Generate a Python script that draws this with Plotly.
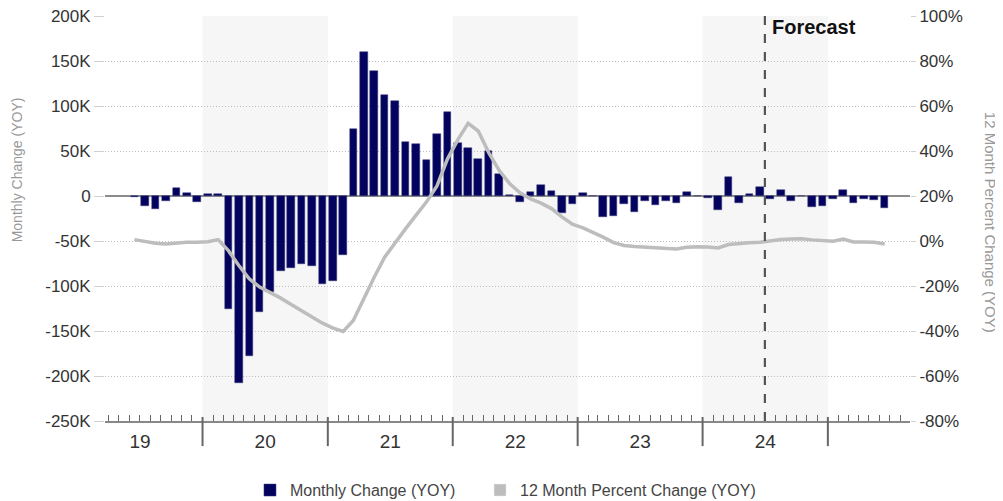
import pandas as pd
import plotly.graph_objects as go

# Months (Jun 2019 .. Jun 2025)
months = pd.date_range("2019-06-01", "2025-06-01", freq="MS").strftime("%Y-%m-%d").tolist()

# Monthly change (YOY), thousands
monthly_change_k = [
    -1, -11, -14, -5, 8.6, 3.5, -7,                                      # 2019 Jun-Dec
    2.4, 2, -125, -208, -178, -129, -107, -83, -80, -76, -78, -98,        # 2020
    -94, -66, 74.5, 160, 139, 112.5, 106, 60, 58, 40.5, 69, 93.7,         # 2021
    59, 53.4, 41.5, 49.7, 25, 1.5, -6.5, 4.9, 12.2, 5.2, -19, -8.5,       # 2022
    3.5, -0.5, -23, -22, -9, -18, -5, -10.5, -6, -8, 5, 0.5,              # 2023
    -2, -16, 21.6, -8, 2.2, 10, -3.7, 7, -5, 0.3, -11.7, -11,             # 2024
    -3, 6.3, -8, -3, -4, -13,                                             # 2025 Jan-Jun
]
monthly_change = [v * 1000 for v in monthly_change_k]

# 12 month percent change (YOY), %
pct_change = [
    0.6, -0.3, -1.0, -1.3, -0.8, -0.6, -0.6,
    -0.3, 0.6, -4.3, -10.9, -16.8, -20.5, -22.8, -25.4, -28.2, -30.9, -33.8, -36.5,
    -38.7, -40.2, -35.3, -25.4, -16.1, -7.2, -0.6, 5.5, 11.5, 17.4, 24.5, 36.4,
    45.2, 52.3, 48.9, 39.3, 31.4, 25.5, 21.4, 18.7, 16.8, 14.4, 10.7, 7.5,
    5.8, 3.9, 1.7, -0.7, -2.0, -2.4, -2.6, -2.8, -3.2, -3.5, -2.8, -2.5,
    -2.7, -3.1, -1.6, -1.1, -0.8, -0.6, 0.0, 0.7, 0.9, 1.0, 0.5, 0.1,
    -0.1, 0.9, -0.4, -0.4, -0.6, -1.3,
]

left_tickvals = [200000, 150000, 100000, 50000, 0, -50000, -100000, -150000, -200000, -250000]
left_ticktext = ["200K", "150K", "100K", "50K", "0", "-50K", "-100K", "-150K", "-200K", "-250K"]
right_tickvals = [100, 80, 60, 40, 20, 0, -20, -40, -60, -80]
right_ticktext = [f"{v}%" for v in right_tickvals]

shaded_years = [2020, 2022, 2024]
year_bounds = [2020, 2021, 2022, 2023, 2024, 2025]
forecast_date = "2024-07-01"

NAVY = "#03035f"
GRAY_LINE = "#bdbdbd"
FONT = "Liberation Sans, Arial, sans-serif"

fig = go.Figure()
fig.add_trace(go.Bar(
    x=months, y=monthly_change, name="Monthly Change (YOY)",
    marker=dict(color=NAVY, line=dict(color="#3a3a78", width=0.5)),
    xperiod="M1", xperiodalignment="middle", width=22 * 86400000,
    legend="legend",
))
fig.add_trace(go.Scatter(
    x=months, y=pct_change, yaxis="y2", mode="lines", showlegend=False,
    line=dict(color=GRAY_LINE, width=3.5),
    xperiod="M1", xperiodalignment="middle",
))
# legend swatch for the line series
fig.add_trace(go.Bar(
    x=[None], y=[None], name="12 Month Percent Change (YOY)",
    marker=dict(color=GRAY_LINE), legend="legend2",
))

shapes = []
for yr in shaded_years:
    shapes.append(dict(type="rect", xref="x", yref="paper",
                       x0=f"{yr}-01-01", x1=f"{yr + 1}-01-01", y0=0, y1=1,
                       fillcolor="#f6f6f6", line=dict(width=0), layer="below"))
for yr in year_bounds:
    shapes.append(dict(type="line", xref="x", yref="paper",
                       x0=f"{yr}-01-01", x1=f"{yr}-01-01", y0=0.01, y1=-0.062,
                       line=dict(color="#666", width=2)))
shapes.append(dict(type="line", xref="x", yref="paper",
                   x0=forecast_date, x1=forecast_date, y0=0, y1=1,
                   line=dict(color="#555", width=2.2, dash="dash")))

legend_common = dict(orientation="h", xref="container", yref="container",
                     xanchor="left", y=0.022, yanchor="middle",
                     font=dict(size=16, color="#444"))

fig.update_layout(
    width=995, height=493,
    margin=dict(l=97, r=93, t=8, b=80, autoexpand=False),
    paper_bgcolor="white", plot_bgcolor="white",
    font=dict(family=FONT, color="#333"),
    barmode="overlay",
    bargap=0,
    shapes=shapes,
    xaxis=dict(
        type="date", range=["2019-03-22", "2025-08-29"],
        dtick="M12", tick0="2019-01-01", tickformat="%y", ticklabelmode="period",
        labelalias={"25": ""},
        ticks="", showgrid=False, showline=True, linecolor="#888", linewidth=2,
        tickfont=dict(size=19, color="#333"), ticklabelstandoff=2,
        ticklabeloverflow="allow",
        minor=dict(ticks="inside", ticklen=6, dtick="M1", tick0="2019-01-01",
                   tickcolor="#666", tickwidth=1, showgrid=False),
        zeroline=False, automargin=False,
    ),
    yaxis=dict(
        range=[-250000, 200000], tickvals=left_tickvals, ticktext=left_ticktext,
        showgrid=True, gridcolor="#bdbdbd", griddash="1px,2px", gridwidth=1,
        zeroline=True, zerolinecolor="#8c8c8c", zerolinewidth=2,
        ticks="outside", ticklen=10, tickcolor="#d0d0d0",
        tickfont=dict(size=17, color="#333"), showline=False, automargin=False,
        ticklabeloverflow="allow",
    ),
    yaxis2=dict(
        range=[-80, 100], tickvals=right_tickvals, ticktext=right_ticktext,
        overlaying="y", side="right", showgrid=False, zeroline=False,
        ticks="outside", ticklen=5, tickcolor="#d0d0d0",
        tickfont=dict(size=17, color="#333"), showline=False, automargin=False,
        ticklabeloverflow="allow",
    ),
    legend=dict(x=0.2432, **legend_common),
    legend2=dict(x=0.4744, **legend_common),
    annotations=[
        dict(text="Monthly Change (YOY)", xref="paper", yref="paper",
             x=-0.11, y=0.62, textangle=-90, showarrow=False,
             font=dict(size=14, color="#999"), xanchor="center", yanchor="middle"),
        dict(text="12 Month Percent Change (YOY)", xref="paper", yref="paper",
             x=1.101, y=0.491, textangle=90, showarrow=False,
             font=dict(size=15, color="#999"), xanchor="center", yanchor="middle"),
        dict(text="<b>Forecast</b>", xref="x", yref="paper", x=forecast_date, y=0.973,
             xanchor="left", yanchor="middle", xshift=5, showarrow=False,
             font=dict(size=20, color="#111")),
    ],
)

fig.write_html("out.html")
